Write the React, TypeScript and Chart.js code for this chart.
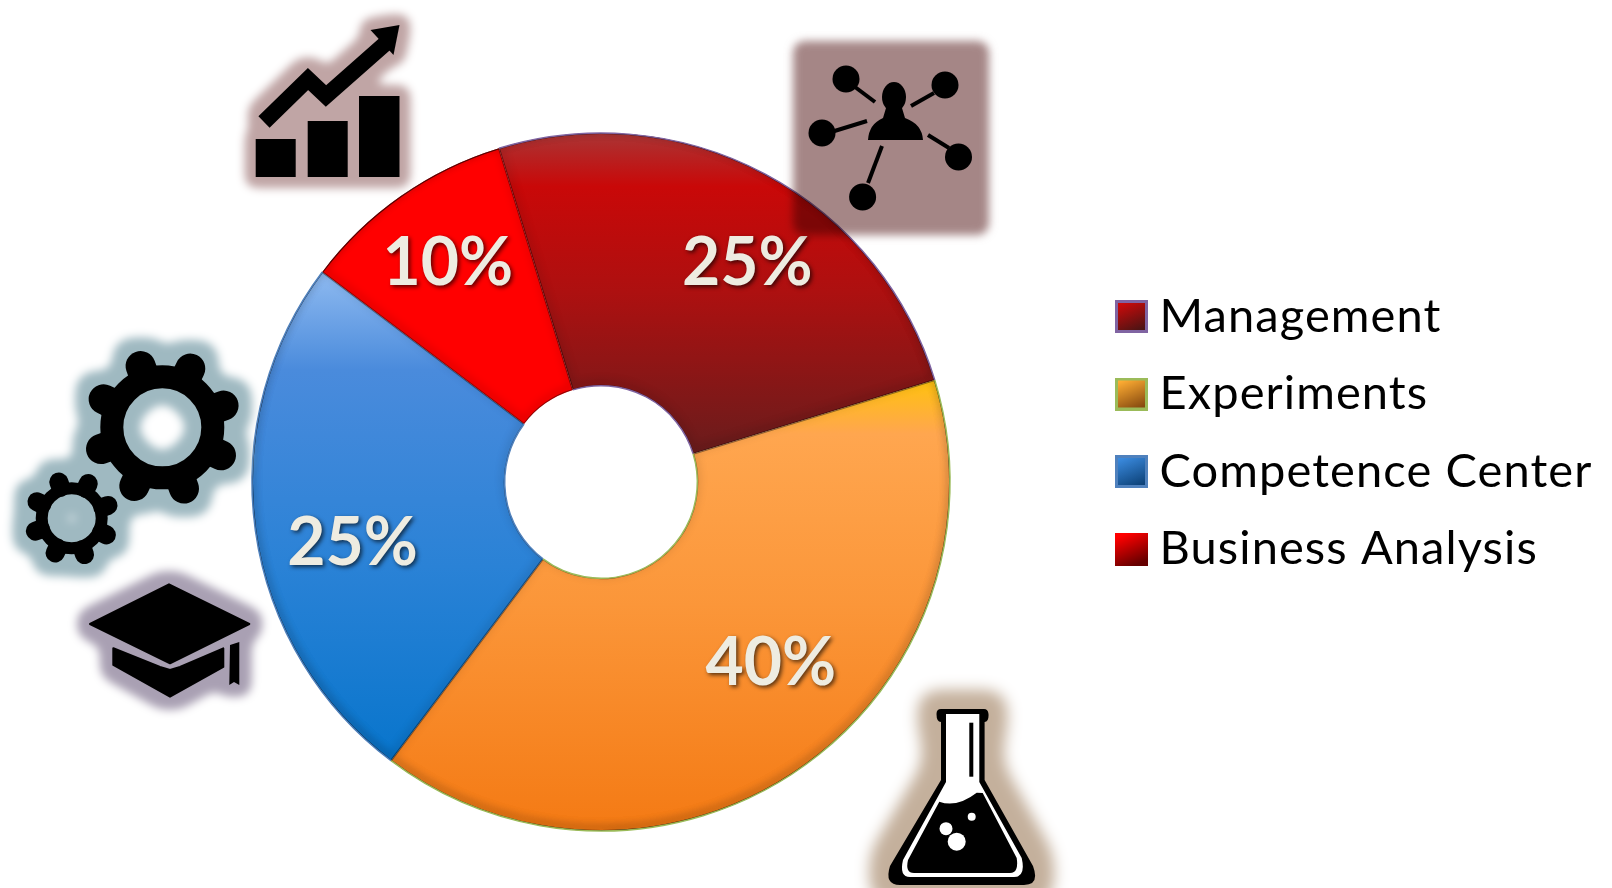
import React, { useEffect, useRef } from "react";
import { Chart, registerables } from "chart.js";

Chart.register(...registerables);

const categories = ["Management", "Experiments", "Competence Center", "Business Analysis"];
const shares = [25, 40, 25, 10];
const edgeColors = ["#8064a2", "#9bbb59", "#4f81bd", "#ff0000"];
const gradientSpans = [[132, 452], [380, 830], [272, 762], [145, 420]];
const gradientStops: [number, string][][] = [
  [[0, "#a93636"], [0.17, "#c90808"], [0.5, "#ad1010"], [1, "#6a1c1c"]],
  [[0, "#ffc20e"], [0.12, "#ffa64f"], [0.5, "#fb9639"], [1, "#f47a14"]],
  [[0, "#8fbaf0"], [0.2, "#4a8bdc"], [0.6, "#2a82d6"], [1, "#0875cc"]],
  [[0, "#ff0000"], [1, "#ff0000"]],
];
const swatchStops = [
  ["#cc0a0a", "#4a1414"],
  ["#ffad33", "#864a10"],
  ["#3a8ade", "#0d4278"],
  ["#ff0000", "#660000"],
];
const labelAngleShift = [5.8, -8, -6, 0];
const labelRadius = [263, 249, 256, 267];

function makeSwatch(i: number) {
  const c = document.createElement("canvas");
  c.width = 44;
  c.height = 33;
  const x = c.getContext("2d")!;
  const last = i === 3;
  const inset = last ? 1 : 1.5;
  const grad = x.createLinearGradient(16, 0, 30, 33);
  grad.addColorStop(0.1, swatchStops[i][0]);
  grad.addColorStop(1, swatchStops[i][1]);
  x.fillStyle = grad;
  x.fillRect(11, 0, 33, 33);
  if (!last) {
    x.strokeStyle = edgeColors[i];
    x.lineWidth = 3;
    x.strokeRect(11 + inset, inset, 33 - 2 * inset, 33 - 2 * inset);
  }
  return c;
}

const slicePath = (ctx: CanvasRenderingContext2D, a: any) => {
  ctx.beginPath();
  ctx.arc(a.x, a.y, a.outerRadius, a.startAngle, a.endAngle);
  ctx.arc(a.x, a.y, a.innerRadius, a.endAngle, a.startAngle, true);
  ctx.closePath();
};

const bevelPlugin = {
  id: "bevel",
  beforeDatasetsDraw(chart: any) {
    chart.ctx.letterSpacing = "0px";
  },
  afterDatasetsDraw(chart: any) {
    const { ctx } = chart;
    chart.getDatasetMeta(0).data.forEach((el: any, i: number) => {
      const a = el.getProps(["x", "y", "startAngle", "endAngle", "innerRadius", "outerRadius"], true);
      ctx.save();
      slicePath(ctx, a);
      ctx.clip();
      slicePath(ctx, a);
      ctx.shadowColor = "rgba(0,0,0,0.85)";
      ctx.shadowBlur = 9;
      ctx.shadowOffsetY = -3;
      ctx.strokeStyle = "rgba(0,0,0,0.4)";
      ctx.lineWidth = 2;
      ctx.stroke();
      ctx.beginPath();
      ctx.arc(a.x, a.y, a.outerRadius, a.startAngle, a.endAngle);
      ctx.stroke();
      ctx.restore();
      if (i < 3) {
        ctx.save();
        ctx.strokeStyle = edgeColors[i];
        ctx.lineWidth = 1.5;
        ctx.beginPath();
        ctx.arc(a.x, a.y, a.outerRadius, a.startAngle, a.endAngle);
        ctx.stroke();
        ctx.beginPath();
        ctx.arc(a.x, a.y, a.innerRadius, a.startAngle, a.endAngle);
        ctx.stroke();
        ctx.restore();
      }
    });
  },
};

const percentPlugin = {
  id: "percent",
  afterDraw(chart: any) {
    const { ctx } = chart;
    chart.getDatasetMeta(0).data.forEach((el: any, i: number) => {
      const a = el.getProps(["x", "y", "startAngle", "endAngle"], true);
      const mid = (a.startAngle + a.endAngle) / 2 + (labelAngleShift[i] * Math.PI) / 180;
      const px = a.x + Math.cos(mid) * labelRadius[i];
      const py = a.y + Math.sin(mid) * labelRadius[i];
      ctx.save();
      ctx.font = "bold 66px Lato";
      ctx.textAlign = "center";
      ctx.textBaseline = "middle";
      ctx.fillStyle = "#eeece1";
      ctx.shadowColor = "rgba(0,0,0,0.65)";
      ctx.shadowBlur = 4;
      ctx.shadowOffsetX = 2;
      ctx.shadowOffsetY = 2;
      ctx.fillText(`${shares[i]}%`, px, py);
      ctx.restore();
    });
  },
};

const legendPlacement = {
  id: "legendPlacement",
  afterLayout(chart: any) {
    const l = chart.legend;
    const h = l.height;
    l.left = 1085.5;
    l.right = 1612;
    l.top = 262.5;
    l.bottom = 262.5 + h;
  },
  beforeDraw(chart: any) {
    chart.ctx.letterSpacing = "1.1px";
  },
};

function Gear({ cx, cy, hole, root, outer, tooth }: any) {
  const angles = [22.5, 67.5, 112.5, 157.5, 202.5, 247.5, 292.5, 337.5];
  return (
    <g>
      <circle cx={cx} cy={cy} r={(hole + root) / 2} fill="none" stroke="#000" strokeWidth={root - hole} />
      {angles.map((d) => {
        const t = ((d + 3) * Math.PI) / 180;
        const r2 = outer - tooth / 2;
        return (
          <line
            key={d}
            x1={cx + Math.cos(t) * (root - 3)}
            y1={cy + Math.sin(t) * (root - 3)}
            x2={cx + Math.cos(t) * r2}
            y2={cy + Math.sin(t) * r2}
            stroke="#000"
            strokeWidth={tooth}
            strokeLinecap="round"
          />
        );
      })}
    </g>
  );
}

function Halo({ id, color, spread, blur }: any) {
  return (
    <filter id={id} x="-40%" y="-40%" width="180%" height="180%" colorInterpolationFilters="sRGB">
      <feMorphology in="SourceAlpha" operator="dilate" radius={spread * 0.7} result="m" />
      <feGaussianBlur in="m" stdDeviation={spread * 0.5} result="w" />
      <feComponentTransfer in="w" result="d">
        <feFuncA type="linear" slope="5" intercept="-1" />
      </feComponentTransfer>
      <feGaussianBlur in="d" stdDeviation={blur} result="b" />
      <feFlood floodColor={color} />
      <feComposite in2="b" operator="in" result="h" />
      <feMerge>
        <feMergeNode in="h" />
        <feMergeNode in="SourceGraphic" />
      </feMerge>
    </filter>
  );
}

function Icons() {
  const nodes = [[846, 79], [945, 85], [822, 133], [958.5, 157], [862.6, 197]];
  const links = [
    [855, 87, 875, 102],
    [934, 93, 911, 106],
    [834.5, 131, 867, 121],
    [928, 135, 949, 148],
    [882, 146, 868, 183],
  ];
  return (
    <svg
      width={1612}
      height={888}
      style={{ position: "absolute", left: 0, top: 0, pointerEvents: "none" }}
    >
      <defs>
        <Halo id="hChart" color="#c0a5a5" spread={12} blur={4} />
        <Halo id="hGear" color="#9fb9c1" spread={14} blur={4} />
        <Halo id="hCap" color="#a9a0b3" spread={13} blur={4} />
        <Halo id="hFlask" color="#c4b09c" spread={20} blur={7} />
        <filter id="soft" x="-10%" y="-10%" width="120%" height="120%">
          <feGaussianBlur stdDeviation="4" />
        </filter>
      </defs>

      <g filter="url(#hChart)">
        <rect x={255.7} y={139} width={40} height={38} />
        <rect x={307.7} y={121} width={40} height={56} />
        <rect x={359} y={96} width={40.5} height={81} />
        <polyline points="264,122 308,79 326,96 386,43" fill="none" stroke="#000" strokeWidth={16} />
        <polygon points="399.5,25 370.5,30 393.5,55" />
      </g>

      <rect
        x={793}
        y={41}
        width={196}
        height={194}
        rx={12}
        fill="#a58686"
        filter="url(#soft)"
        style={{ mixBlendMode: "multiply" }}
      />
      <g>
        {links.map((l, i) => (
          <line key={i} x1={l[0]} y1={l[1]} x2={l[2]} y2={l[3]} stroke="#000" strokeWidth={4} />
        ))}
        {nodes.map((n, i) => (
          <circle key={i} cx={n[0]} cy={n[1]} r={13.5} />
        ))}
        <ellipse cx={894} cy={97} rx={12} ry={15} />
        <path d="M886,108 L902,108 L905,118 Q922,124 923,140 L868,140 Q869,124 883,118 Z" />
      </g>

      <g filter="url(#hGear)">
        <Gear cx={162.3} cy={427.3} hole={39} root={62} outer={80} tooth={30} />
        <Gear cx={71.7} cy={518.3} hole={24} root={36} outer={48} tooth={19} />
      </g>

      <g filter="url(#hCap)">
        <polygon points="90,624 169,584.3 249.3,624 170,663.3" stroke="#000" strokeWidth={2} strokeLinejoin="round" />
        <polygon points="113.3,648.3 160,667 170,670 180,667 223.3,648.3 223.3,667 170,696.7 113.3,665" stroke="#000" strokeWidth={2} strokeLinejoin="round" />
        <polygon points="230,645 239.3,642 239.3,685 234,682 229.3,685" />
      </g>

      <g filter="url(#hFlask)">
        <path
          d="M941,722 L941,780 L890,866 Q884,885 900,885 L1024,885 Q1040,885 1033,866 L984.6,780 L984.6,722 Q989,722 988.5,714 Q988,709 984,709 L941,709 Q936.5,709 936.5,714 Q936.5,722 941,722 Z"
          fill="#000"
        />
        <path
          d="M946,714 L979.3,714 L979.3,782 L1021.7,858 Q1026,877 1014,877 L910,877 Q899,877 903,860 L946,782 Z"
          fill="#fff"
        />
        <path
          d="M939.3,801.7 Q957,808 976.7,792.7 L982.7,793 L1016.7,858 Q1019,873 1010,873 L914,873 Q905,873 908,860 Z"
          fill="#000"
        />
        <rect x={969.3} y={722.7} width={4} height={54} fill="#000" />
        <circle cx={946} cy={828.7} r={6.5} fill="#fff" />
        <circle cx={956.7} cy={841.7} r={9} fill="#fff" />
        <circle cx={971.7} cy={816.7} r={4} fill="#fff" />
      </g>
    </svg>
  );
}

export default function App() {
  const ref = useRef<HTMLCanvasElement | null>(null);
  useEffect(() => {
    const swatches = categories.map((_, i) => makeSwatch(i));
    const baseLabels = (Chart as any).overrides.doughnut.plugins.legend.labels.generateLabels;
    const chart = new Chart(ref.current!, {
      type: "doughnut",
      data: {
        labels: categories,
        datasets: [
          {
            data: shares,
            borderWidth: 0,
            backgroundColor: (c: any) => {
              const i = c.dataIndex ?? 0;
              const g = c.chart.ctx.createLinearGradient(0, gradientSpans[i][0], 0, gradientSpans[i][1]);
              gradientStops[i].forEach(([p, col]) => g.addColorStop(p, col));
              return g;
            },
          },
        ],
      },
      options: {
        responsive: false,
        animation: false,
        rotation: -17,
        cutout: "27.6%",
        layout: { padding: { left: 252, right: 662, top: 133, bottom: 57 } },
        plugins: {
          tooltip: { enabled: false },
          legend: {
            display: true,
            position: "chartArea" as any,
            align: "start",
            labels: {
              usePointStyle: true,
              boxWidth: 20,
              boxHeight: 30,
              padding: 30.5,
              color: "#000",
              font: { family: "Lato", size: 47, lineHeight: 1 },
              generateLabels: (ch: any) =>
                baseLabels(ch).map((it: any, i: number) => ({ ...it, pointStyle: swatches[i] })),
            },
          },
        },
      },
      plugins: [legendPlacement, bevelPlugin, percentPlugin],
    });
    return () => chart.destroy();
  }, []);
  return (
    <div style={{ position: "fixed", left: 0, top: 0, width: 1612, height: 888, background: "#fff", overflow: "hidden" }}>
      <canvas ref={ref} width={1612} height={888} style={{ position: "absolute", left: 0, top: 0, display: "block" }} />
      <Icons />
    </div>
  );
}
